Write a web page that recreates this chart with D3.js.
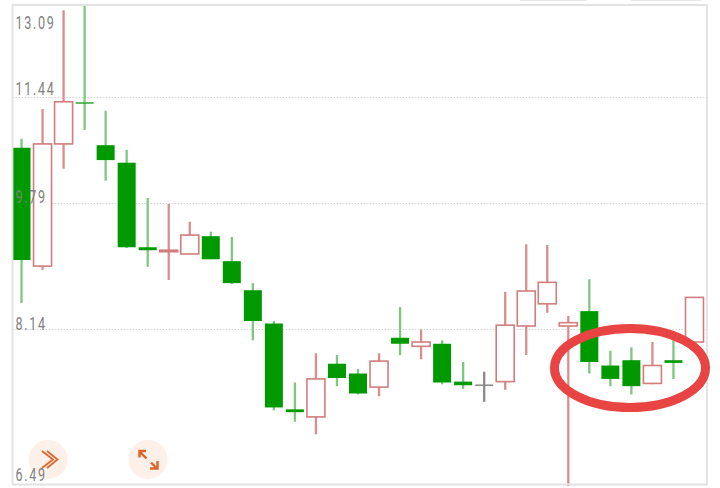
<!DOCTYPE html>
<html><head><meta charset="utf-8">
<script src="https://cdn.jsdelivr.net/npm/d3@7/dist/d3.min.js"></script>
<style>html,body{margin:0;padding:0;background:#fff;overflow:hidden}svg{display:block}</style>
</head><body><svg id="c" width="720" height="488"></svg>
<script>
const tickValues = [13.09, 11.44, 9.79, 8.14, 6.49];
const open  = [10.62,8.93,10.68,11.34,10.66,10.39,9.18,9.12,9.09,9.33,8.995,8.62,8.21,7.24,7.16,7.74,7.63,7.48,8.04,7.94,7.97,7.54,7.50,7.54,8.18,8.45,8.18,8.36,7.72,7.78,7.52,7.78,7.99];
const close = [9.01,10.68,11.36,11.34,10.43,9.18,9.14,9.14,9.345,9.02,8.71,8.24,7.26,7.21,7.57,7.58,7.41,7.77,7.97,7.99,7.53,7.50,7.50,8.19,8.61,8.72,8.22,7.76,7.57,7.49,7.72,7.75,8.53];
const high  = [10.76,11.24,12.99,13.09,11.21,10.59,9.865,9.78,9.53,9.39,9.32,8.71,8.24,7.53,7.86,7.84,7.68,7.86,8.41,8.14,8.01,7.76,7.65,8.60,9.22,9.21,8.30,8.76,7.89,7.93,7.99,8.01,8.53];
const low   = [8.46,8.88,10.30,10.90,10.12,9.17,8.92,8.75,9.09,9.02,8.70,8.01,7.23,7.11,6.98,7.49,7.40,7.38,7.84,7.79,7.51,7.46,7.32,7.45,7.84,8.34,6.47,7.63,7.49,7.40,7.51,7.57,7.99];
const flat  = [22]; // index of the unchanged (grey) session

const svg = d3.select("#c");
const L = 12.5, R = 707, T = 5, B = 484;
const y = d3.scaleLog().domain([6.49, 13.09]).range([B, T]);
const x = d3.scaleBand().domain(d3.range(open.length)).range([11, 705]);
const bw = 18;

svg.append("defs").append("clipPath").attr("id","plot")
  .append("rect").attr("x",L+0.5).attr("y",T).attr("width",R-L-1).attr("height",B-T+2);

// tab remnants at the very top
svg.append("g").selectAll("rect").data([[520,67],[631,70]]).join("rect")
  .attr("x",d=>d[0]).attr("y",0).attr("width",d=>d[1]).attr("height",1).attr("fill","#e8e8e8");

// gridlines
svg.append("g").selectAll("line").data(tickValues.slice(1,4)).join("line")
  .attr("x1",L).attr("x2",R).attr("y1",d=>Math.round(y(d))+.5).attr("y2",d=>Math.round(y(d))+.5)
  .attr("stroke","#d4d4d4").attr("stroke-width",1).attr("stroke-dasharray","1.5 1.5");

// candles
const g = svg.append("g").attr("clip-path","url(#plot)");
const cand = d3.range(open.length).map(i=>({i,o:open[i],c:close[i],h:high[i],l:low[i]}));
const cx = d=>x(d.i)+x.bandwidth()/2;
const col = d=>flat.includes(d.i)?"#8a8a8a":(d.c>d.o?"#d98e8e":"#7fc683");
g.selectAll("line.w").data(cand).join("line").attr("class","w")
  .attr("x1",d=>cx(d)).attr("x2",d=>cx(d))
  .attr("y1",d=>y(d.h)).attr("y2",d=>y(d.l))
  .attr("stroke",col).attr("stroke-width",2.3);
g.selectAll("rect.b").data(cand).join("rect").attr("class","b")
  .attr("x",d=>cx(d)-bw/2).attr("width",bw)
  .attr("y",d=>y(Math.max(d.o,d.c)))
  .attr("height",d=>Math.max(d.o===d.c?0:1.5, y(Math.min(d.o,d.c))-y(Math.max(d.o,d.c))))
  .attr("fill",d=>d.c>d.o?"#fff":"#009a00")
  .attr("stroke",d=>d.c>d.o?"#d27d7d":"none")
  .attr("stroke-width",d=>d.c>d.o?1.6:0);
// hairline body for sessions where open equals close
g.selectAll("line.d").data(cand.filter(d=>d.o===d.c)).join("line").attr("class","d")
  .attr("x1",d=>cx(d)-bw/2).attr("x2",d=>cx(d)+bw/2)
  .attr("y1",d=>y(d.o)).attr("y2",d=>y(d.o))
  .attr("stroke",d=>flat.includes(d.i)?"#8a8a8a":"#2fa52f").attr("stroke-width",1.6);

// frame
svg.append("path").attr("d",`M${L},${B+.5}V${T}H${R}V${B+.5}H${L}`)
  .attr("fill","none").attr("stroke","#e2e2e2").attr("stroke-width",1.8);

// buttons
const btn = svg.append("g");
btn.selectAll("circle").data([48,148]).join("circle")
  .attr("cx",d=>d).attr("cy",459.5).attr("r",19.5).attr("fill","#fdf0e8");
btn.append("path").attr("d","M42,451L53,459.5L42,468M47,451L57.5,459.5L47,468")
  .attr("fill","none").attr("stroke","#e0672c").attr("stroke-width",1.8);
btn.append("path").attr("d","M140,452L146.5,458.5M139.5,457.5V451H146M151,462.5L157,468.5M150,468.5H157.5V461")
  .attr("fill","none").attr("stroke","#dd6428").attr("stroke-width",2.4);

// y labels (tall, condensed, widely tracked)
const labY = [29, 95, 203, 330, 481];
svg.append("g").selectAll("text").data(tickValues).join("text")
  .attr("transform",(d,i)=>`translate(15.5,${labY[i]}) scale(0.66,1)`)
  .attr("font-family","Roboto, 'Open Sans', sans-serif").attr("font-weight",400)
  .attr("font-size",19).attr("letter-spacing",2.6).attr("fill","#808080")
  .text(d=>d.toFixed(2));

// hand-drawn highlight
svg.append("ellipse").attr("cx",630).attr("cy",368).attr("rx",75.5).attr("ry",39.5)
  .attr("fill","none").attr("stroke","#e84444").attr("stroke-width",9);
</script></body></html>
